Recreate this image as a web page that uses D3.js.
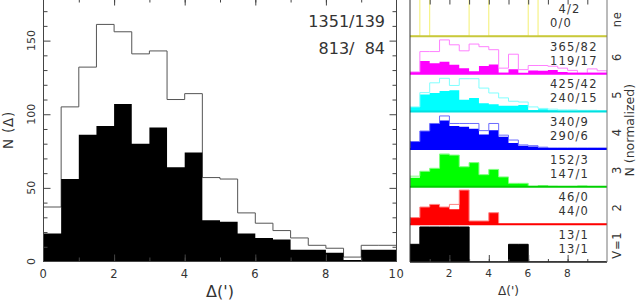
<!DOCTYPE html>
<html>
<head>
<meta charset="utf-8">
<script src="https://cdn.jsdelivr.net/npm/d3@7"></script>
<style>
  body { margin: 0; background: #fff; }
  svg { display: block; }
  text { font-family: "DejaVu Sans", sans-serif; fill: #333; }
</style>
</head>
<body>
<svg id="chart" width="637" height="302"></svg>
<script>
// bin edges (arcmin), 20 bins of 0.5
const binEdges = [0, 0.5, 1, 1.5, 2, 2.5, 3, 3.5, 4, 4.5, 5, 5.5, 6, 6.5, 7, 7.5, 8, 8.5, 9, 9.5, 10];

// left histogram: all sources (outline) and selected (filled)
const allCounts = [37, 105, 132, 161, 156, 141, 143, 110, 114, 57, 56, 33, 26, 21, 16, 11, 9, 3, 11, 11];
const selCounts = [19, 56, 86, 92, 107, 80, 91, 64, 74, 28, 27, 19, 16, 15, 8, 8, 6, 1, 8, 8];
const totalLabels = ["1351/139", "813/\u200784"];
const leftYLabels = [0, 50, 100, 150];
const leftXLabels = [0, 2, 4, 6, 8, 10];
const rightXLabels = [2, 4, 6, 8];

// right: normalized histograms per class, top to bottom
const panelNames = ["ne", "6", "5", "4", "3", "2", "V=1"];
const panelColors = ["#ffff00", "#ff00ff", "#00ffff", "#0000ff", "#00ff00", "#ff0000", "#000000"];
const outlineColors = ["#f4f070", "#ff80ff", "#80ffff", "#6a6aff", "#80ff80", "#ff8080", "#000000"];
const baseColors = ["#c8c83c", "#ff00ff", "#00e0e0", "#0000ff", "#00d000", "#ff0000", "#000000"];
const panelAll = [
  [0, 1, 0, 0, 0, 0, 1, 1, 0, 0, 0, 0, 1, 0, 0, 0, 0, 0, 0, 0],
  [0.05, 0.59, 0.59, 0.9, 0.77, 0.61, 0.79, 0.72, 0.64, 0.15, 0.52, 0.11, 0.22, 0.22, 0.2, 0.15, 0.09, 0.02, 0.13, 0.08],
  [0.12, 0.5, 0.76, 0.88, 0.69, 0.87, 0.87, 0.62, 0.49, 0.36, 0.27, 0.25, 0.12, 0.08, 0.06, 0.04, 0.04, 0.03, 0.03, 0.02],
  [0.2, 0.48, 0.68, 0.88, 0.68, 0.68, 0.68, 0.49, 0.68, 0.37, 0.24, 0.11, 0.09, 0.05, 0.03, 0.03, 0.03, 0.03, 0.03, 0.03],
  [0.28, 0.41, 0.49, 0.87, 0.84, 0.53, 0.64, 0.32, 0.46, 0.26, 0.09, 0.09, 0.01, 0.03, 0.01, 0, 0, 0.02, 0, 0],
  [0.18, 0.46, 0.53, 0.46, 0.53, 0.91, 0.09, 0.09, 0.31, 0, 0, 0, 0, 0, 0, 0, 0, 0, 0, 0],
  [0.47, 0.93, 0.93, 0.93, 0.93, 0.93, 0, 0, 0, 0, 0.47, 0.47, 0, 0, 0, 0, 0, 0, 0, 0]
];
const panelSel = [
  [0, 0, 0, 0, 0, 0, 0, 0, 0, 0, 0, 0, 0, 0, 0, 0, 0, 0, 0, 0],
  [0.05, 0.34, 0.28, 0.32, 0.24, 0.15, 0.07, 0.21, 0.25, 0.03, 0.12, 0, 0.09, 0.08, 0.1, 0.05, 0.03, 0.01, 0.03, 0.03],
  [0.12, 0.45, 0.49, 0.54, 0.56, 0.31, 0.36, 0.22, 0.19, 0.15, 0.15, 0.17, 0.04, 0.06, 0.03, 0.02, 0.02, 0.02, 0.02, 0.02],
  [0.2, 0.48, 0.68, 0.76, 0.61, 0.59, 0.54, 0.39, 0.5, 0.33, 0.16, 0.09, 0.07, 0.04, 0.03, 0.03, 0.02, 0.02, 0.03, 0.03],
  [0.24, 0.41, 0.49, 0.86, 0.84, 0.53, 0.64, 0.32, 0.46, 0.26, 0.09, 0.09, 0.01, 0.03, 0.01, 0, 0, 0.02, 0, 0],
  [0.18, 0.46, 0.53, 0.46, 0.4, 0.91, 0.09, 0.09, 0.31, 0, 0, 0, 0, 0, 0, 0, 0, 0, 0, 0],
  [0.47, 0.93, 0.93, 0.93, 0.93, 0.93, 0, 0, 0, 0, 0.47, 0.47, 0, 0, 0, 0, 0, 0, 0, 0]
];
const panelCounts = [
  ["\u20074/2", "0/0"],
  ["365/82", "119/17"],
  ["425/42", "240/15"],
  ["340/9", "290/6"],
  ["152/3", "147/1"],
  ["\u200746/0", "\u200744/0"],
  ["\u200713/1", "\u200713/1"]
];

const svg = d3.select("#chart");

function stepPoints(vals) {
  // [edge, value] pairs closing on the baseline at both ends
  let pts = [[binEdges[0], 0]];
  vals.forEach((v, i) => pts.push([binEdges[i], v]));
  pts.push([binEdges[binEdges.length - 1], vals[vals.length - 1]]);
  pts.push([binEdges[binEdges.length - 1], 0]);
  return pts;
}

// ---------- left panel ----------
const xL = d3.scaleLinear().domain([0, 10]).range([43.5, 396.5]);
const yL = d3.scaleLinear().domain([0, 178.6]).range([261.5, -1.5]);

const left = svg.append("g");
const areaL = d3.area().x(d => xL(d[0])).y0(yL(0)).y1(d => yL(d[1])).curve(d3.curveStepAfter);
const lineL = d3.line().x(d => xL(d[0])).y(d => yL(d[1])).curve(d3.curveStepAfter);

left.append("path").attr("d", lineL(stepPoints(allCounts)))
  .attr("fill", "none").attr("stroke", "#555").attr("stroke-width", 1);
left.append("path").attr("d", areaL(stepPoints(selCounts).slice(1, -1)))
  .attr("fill", "#000");

// ticks, inward on all four sides
function ticksOn(g, axis, vals, size) {
  g.call(axis.tickValues(vals).tickSize(size).tickFormat(""))
    .call(s => s.select(".domain").remove())
    .call(s => s.selectAll("line").attr("stroke", "#444"));
}
const minorX = [1, 2, 3, 4, 5, 6, 7, 8, 9];
const majorX = [2, 4, 6, 8];
const minorY = [10, 20, 30, 40, 60, 70, 80, 90, 110, 120, 130, 140, 160, 170];
ticksOn(left.append("g").attr("transform", `translate(0,${yL(0)})`), d3.axisBottom(xL), minorX, -4);
ticksOn(left.append("g").attr("transform", `translate(0,${yL(0)})`), d3.axisBottom(xL), majorX, -7);
ticksOn(left.append("g").attr("transform", `translate(0,${yL.range()[1]})`), d3.axisTop(xL), minorX, -4);
ticksOn(left.append("g").attr("transform", `translate(0,${yL.range()[1]})`), d3.axisTop(xL), majorX, -7);
ticksOn(left.append("g").attr("transform", `translate(${xL(0)},0)`), d3.axisLeft(yL), minorY, -4);
ticksOn(left.append("g").attr("transform", `translate(${xL(0)},0)`), d3.axisLeft(yL), [50, 100, 150], -7);
ticksOn(left.append("g").attr("transform", `translate(${xL(10)},0)`), d3.axisRight(yL), minorY, -4);
ticksOn(left.append("g").attr("transform", `translate(${xL(10)},0)`), d3.axisRight(yL), [50, 100, 150], -7);

left.append("rect")
  .attr("x", xL(0)).attr("y", yL.range()[1])
  .attr("width", xL(10) - xL(0)).attr("height", yL(0) - yL.range()[1])
  .attr("fill", "none").attr("stroke", "#444");

left.selectAll(".xl").data(leftXLabels).join("text")
  .attr("x", d => xL(d)).attr("y", 277.5)
  .attr("text-anchor", "middle").attr("font-size", 11.5).attr("letter-spacing", 0.6)
  .text(d => d);
left.selectAll(".yl").data(leftYLabels).join("text")
  .attr("transform", d => `translate(35,${yL(d)}) rotate(-90)`)
  .attr("text-anchor", "middle").attr("font-size", 11)
  .text(d => d);

left.append("text").attr("x", (xL(0) + xL(10)) / 2).attr("y", 296.5)
  .attr("text-anchor", "middle").attr("font-size", 16).text("\u0394(')");
left.append("text").attr("transform", `translate(12.5,${(yL(0) + yL.range()[1]) / 2}) rotate(-90)`)
  .attr("text-anchor", "middle").attr("font-size", 13.5).attr("letter-spacing", 0.8)
  .text("N (\u0394)");

left.selectAll(".tot").data(totalLabels).join("text")
  .attr("x", 385).attr("y", (d, i) => 26.7 + i * 26.8)
  .attr("text-anchor", "end").attr("font-size", 16)
  .text(d => d);

// ---------- right panels ----------
const xR = d3.scaleLinear().domain([0, 10]).range([410, 607]);
const band = d3.scaleBand().domain(panelNames).range([-1.5, 262]);
const right = svg.append("g");

panelNames.forEach((name, p) => {
  const top = band(name), bot = top + band.bandwidth();
  const yP = d3.scaleLinear().domain([0, 1]).range([bot, top]);
  const g = right.append("g");
  const clipId = "clip" + p;
  g.append("clipPath").attr("id", clipId).append("rect")
    .attr("x", xR(0)).attr("y", top).attr("width", xR(10) - xR(0)).attr("height", bot - top);
  const inner = g.append("g").attr("clip-path", `url(#${clipId})`);

  const area = d3.area().x(d => xR(d[0])).y0(yP(0)).y1(d => yP(d[1])).curve(d3.curveStepAfter);
  const line = d3.line().x(d => xR(d[0])).y(d => yP(d[1])).curve(d3.curveStepAfter);

  inner.append("path").attr("d", area(stepPoints(panelSel[p]).slice(1, -1)))
    .attr("fill", panelColors[p]);
  inner.append("path").attr("d", line(stepPoints(panelAll[p])))
    .attr("fill", "none").attr("stroke", outlineColors[p]).attr("stroke-width", 1);

  if (p < panelNames.length - 1) {
    g.append("line").attr("x1", xR(0)).attr("x2", xR(10)).attr("y1", bot).attr("y2", bot)
      .attr("stroke", baseColors[p]).attr("stroke-width", 2);
  }

  g.selectAll("text.cnt").data(panelCounts[p]).join("text")
    .attr("class", "cnt")
    .attr("x", 550).attr("y", (d, i) => top + 14.5 + i * 14)
    .attr("font-size", 11.5).attr("letter-spacing", 1.2)
    .text(d => d);

  g.append("text")
    .attr("transform", `translate(621,${(top + bot) / 2 + 2}) rotate(-90)`)
    .attr("text-anchor", "middle").attr("font-size", 11.5).attr("letter-spacing", 0.8)
    .text(name);
});

// right frame and ticks
const rBot = band.range()[1], rTop = band.range()[0];
ticksOn(right.append("g").attr("transform", `translate(0,${rBot})`), d3.axisBottom(xR), minorX, -3);
ticksOn(right.append("g").attr("transform", `translate(0,${rBot})`), d3.axisBottom(xR), majorX, -7);
ticksOn(right.append("g").attr("transform", `translate(0,${rTop})`), d3.axisTop(xR), minorX, -6);
right.append("line").attr("x1", xR(0)).attr("x2", xR(10)).attr("y1", rBot).attr("y2", rBot)
  .attr("stroke", "#222").attr("stroke-width", 1.5);
right.append("line").attr("x1", xR(0)).attr("x2", xR(0)).attr("y1", rTop).attr("y2", rBot)
  .attr("stroke", "#333");
right.append("line").attr("x1", xR(10)).attr("x2", xR(10)).attr("y1", rTop).attr("y2", rBot)
  .attr("stroke", "#777");

right.selectAll(".xr").data(rightXLabels).join("text")
  .attr("x", d => xR(d)).attr("y", 277.3)
  .attr("text-anchor", "middle").attr("font-size", 10.5).attr("letter-spacing", 0.5)
  .text(d => d);
right.append("text").attr("x", (xR(0) + xR(10)) / 2).attr("y", 294.5)
  .attr("text-anchor", "middle").attr("font-size", 12).text("\u0394(')");
right.append("text").attr("transform", `translate(634,${(rTop + rBot) / 2}) rotate(-90)`)
  .attr("text-anchor", "middle").attr("font-size", 12.5)
  .text("N (normalized)");
</script>
</body>
</html>
